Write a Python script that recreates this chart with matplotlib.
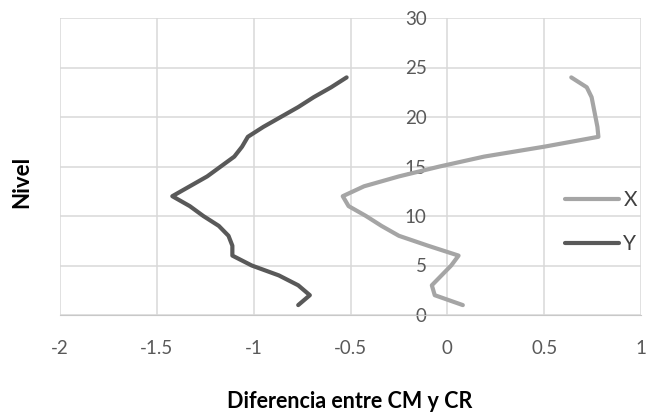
# Diferencia entre CM y CR por nivel (series X e Y)

import matplotlib
matplotlib.use("Agg")
import matplotlib.pyplot as plt

niveles = list(range(1, 25))
dif_x = [0.08, -0.065, -0.08, -0.03, 0.02, 0.058, -0.10, -0.25, -0.34, -0.42,
         -0.51, -0.54, -0.43, -0.25, -0.04, 0.19, 0.50, 0.78, 0.775, 0.765,
         0.755, 0.745, 0.72, 0.64]
dif_y = [-0.77, -0.71, -0.77, -0.87, -1.01, -1.11, -1.11, -1.13, -1.18, -1.26,
         -1.33, -1.42, -1.33, -1.24, -1.17, -1.10, -1.06, -1.03, -0.95, -0.86,
         -0.77, -0.69, -0.60, -0.52]

x_ticks = [-2, -1.5, -1, -0.5, 0, 0.5, 1]
x_labels = ["-2", "-1.5", "-1", "-0.5", "0", "0.5", "1"]
y_ticks = [0, 5, 10, 15, 20, 25, 30]

plt.rcParams['font.family'] = ['Lato', 'DejaVu Sans']

fig = plt.figure(figsize=(6.59, 4.16), dpi=100)
ax = fig.add_axes([60/659, 1 - 315/416, 581/659, 297/416])

ax.plot(dif_x, niveles, color='#A5A5A5', linewidth=3.0, label='X',
        solid_capstyle='round', solid_joinstyle='round')
ax.plot(dif_y, niveles, color='#595959', linewidth=3.0, label='Y',
        solid_capstyle='round', solid_joinstyle='round')

ax.set_xlim(-2, 1)
ax.set_ylim(0, 30)
ax.set_xticks(x_ticks)
ax.set_xticklabels(x_labels)
ax.set_yticks(y_ticks)
ax.grid(True, color='#D9D9D9', linewidth=1.1)
ax.set_axisbelow(True)

# y axis crosses at x = 0
ax.spines['left'].set_position(('data', 0))
ax.spines['left'].set_visible(False)
ax.spines['right'].set_visible(False)
ax.spines['top'].set_visible(False)
ax.spines['bottom'].set_color('#C8C8C8')
ax.tick_params(axis='both', length=0, labelsize=13.5, labelcolor='#595959')
ax.tick_params(axis='x', pad=18)
ax.tick_params(axis='y', pad=15)

leg = ax.legend(loc='center left', bbox_to_anchor=(0.855, 0.313), frameon=False,
                fontsize=15, handlelength=2.6, handletextpad=0.2,
                labelspacing=1.15, borderaxespad=0)
for t in leg.get_texts():
    t.set_color('#404040')

fig.text(350/659, 1 - 401/416, "Diferencia entre CM y CR", ha='center', va='center',
         fontsize=15.5, fontweight='bold', color='black')
fig.text(22/659, 1 - 182/416, "Nivel", ha='center', va='center', rotation=90,
         fontsize=16, fontweight='bold', color='black')

fig.savefig("out.png", dpi=100)
